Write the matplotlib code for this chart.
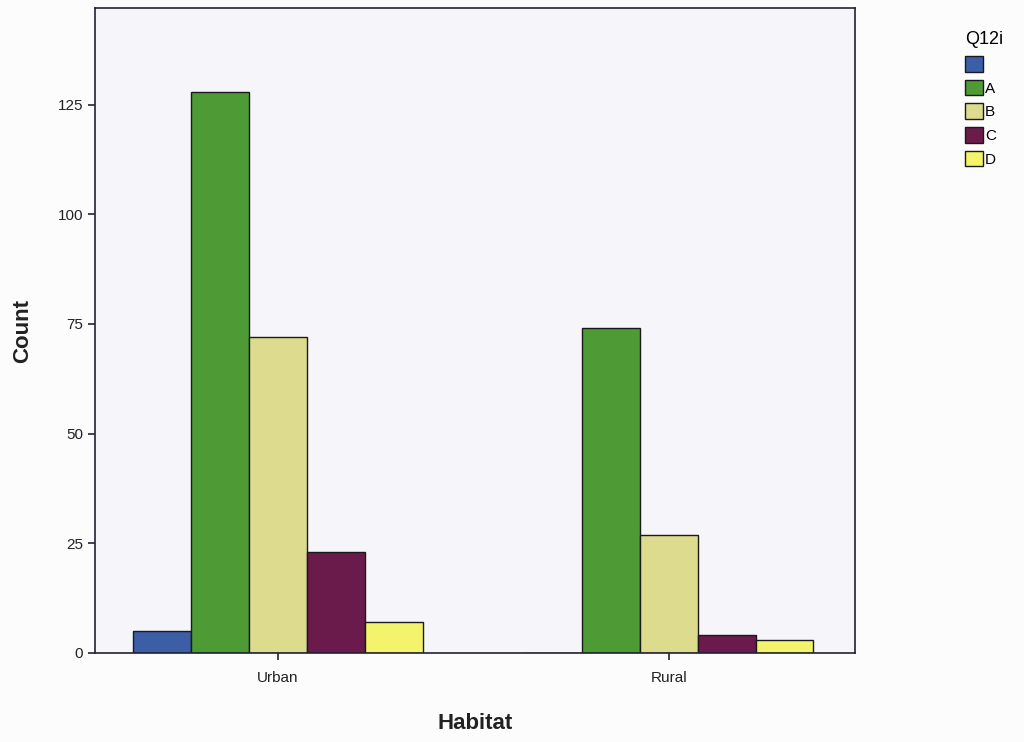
import matplotlib
matplotlib.use("Agg")
import matplotlib.pyplot as plt
import numpy as np
from matplotlib.patches import Patch

plt.rcParams['font.family'] = ['Liberation Sans', 'DejaVu Sans']

categories = ["Urban", "Rural"]
series_labels = ["", "A", "B", "C", "D"]
blank = [5, 0]
a_vals = [128, 74]
b_vals = [72, 27]
c_vals = [23, 4]
d_vals = [7, 3]
series_values = [blank, a_vals, b_vals, c_vals, d_vals]
colors = ["#3b5ea6", "#4e9a35", "#dcdb8e", "#6a1b4b", "#f4f46c"]
y_ticks = [0, 25, 50, 75, 100, 125]

fig = plt.figure(figsize=(10.24, 7.42), dpi=100)
fig.patch.set_facecolor("#fcfcfc")
ax = fig.add_axes([0.0928, 0.12, 0.742, 0.869])
ax.set_facecolor("#f6f6fa")

x = np.arange(len(categories))
width = 0.148
for i, (vals, col) in enumerate(zip(series_values, colors)):
    offs = (i - 2) * width
    ax.bar(x + offs, vals, width=width, color=col, edgecolor="#1a1a1a", linewidth=1.0, label=series_labels[i])

ax.set_xlim(-0.468, 1.476)
ax.set_ylim(0, 147)
ax.set_yticks(y_ticks)
ax.set_yticklabels([str(t) for t in y_ticks], fontsize=11, color="#222222")
ax.set_xticks(x)
ax.set_xticklabels(categories, fontsize=11, color="#222222")
ax.tick_params(axis="both", length=5, width=1.2, color="#222233")
ax.tick_params(axis="x", pad=8)
for s in ax.spines.values():
    s.set_color("#222233")
    s.set_linewidth(1.2)

ax.set_ylabel("Count", fontsize=16, fontweight="bold", color="#222222", labelpad=18)
ax.set_xlabel("Habitat", fontsize=16, fontweight="bold", color="#222222", labelpad=20)

handles = [Patch(facecolor=c, edgecolor="#1a1a1a", label=l) for c, l in zip(colors, series_labels)]
leg = fig.legend(handles=handles, title="Q12i", loc="upper left", bbox_to_anchor=(0.935, 0.968),
                 frameon=False, fontsize=11, title_fontsize=13, handlelength=1.2, handleheight=1.2,
                 handletextpad=0.1, labelspacing=0.5, borderpad=0.0)
leg._legend_box.align = "left"

fig.savefig("out.png", dpi=100)
